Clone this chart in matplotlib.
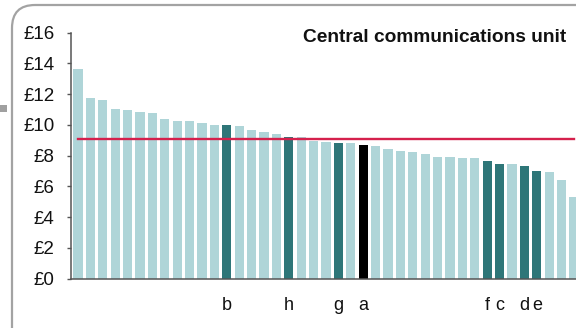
import matplotlib
matplotlib.use("Agg")
import matplotlib.pyplot as plt
from matplotlib.patches import FancyBboxPatch, Rectangle

# ---- data ----
values = [13.64, 11.75, 11.64, 11.04, 10.99, 10.86, 10.80, 10.41, 10.26, 10.24,
          10.13, 10.00, 9.97, 9.93, 9.67, 9.54, 9.43, 9.22, 9.20, 8.93,
          8.89, 8.85, 8.83, 8.72, 8.61, 8.43, 8.33, 8.22, 8.13, 7.93,
          7.91, 7.87, 7.83, 7.65, 7.48, 7.46, 7.33, 7.00, 6.94, 6.42,
          5.33]
highlight_idx = [12, 17, 21, 23, 33, 34, 36, 37]
highlight_lbl = ["b", "h", "g", "a", "f", "c", "d", "e"]
selected = "a"
benchmark = 9.07
yticks = [0, 2, 4, 6, 8, 10, 12, 14, 16]
ytick_labels = ["£0", "£2", "£4", "£6", "£8", "£10", "£12", "£14", "£16"]
title = "Central communications unit"

LIGHT = "#AFD5D8"
DARK = "#2E7678"
BLACK = "#000000"
RED = "#D5204C"

plt.rcParams["font.family"] = ["Liberation Sans", "DejaVu Sans"]

W, H = 576, 328
fig = plt.figure(figsize=(W / 100, H / 100), dpi=100)

# rounded frame (extends beyond right/bottom edges)
frame = FancyBboxPatch((12 / W, -40 / H), 620 / W, (328 - 5 + 40) / H,
                       boxstyle="round,pad=0,rounding_size=0.04",
                       transform=fig.transFigure, facecolor="white",
                       edgecolor="#A3A3A3", linewidth=1.6, mutation_aspect=W / H,
                       zorder=-5)
fig.patches.append(frame)
fig.patches.append(Rectangle((0, (328 - 112) / H), 7 / W, 7 / H,
                             transform=fig.transFigure, facecolor="#A0A0A0",
                             edgecolor="none", zorder=-5))

ax_left, ax_right = 71, 590
ax_bottom, ax_top = 278.7, 32.7
ax = fig.add_axes([ax_left / W, (H - ax_bottom) / H,
                   (ax_right - ax_left) / W, (ax_bottom - ax_top) / H])
ax.set_zorder(2)
ax.patch.set_alpha(0)

pitch = 12.4
x0 = (ax_left - 77.95) / pitch
x1 = (ax_right - 77.95) / pitch

colors = []
lbl_map = dict(zip(highlight_idx, highlight_lbl))
for i in range(len(values)):
    if i in lbl_map:
        colors.append(BLACK if lbl_map[i] == selected else DARK)
    else:
        colors.append(LIGHT)

xs = list(range(len(values)))
ax.bar(xs, values, width=0.75, color=colors, edgecolor="none", zorder=2)
ax.plot([0, len(values) - 1], [benchmark, benchmark], color=RED, lw=1.7, zorder=3)

ax.set_xlim(x0, x1)
ax.set_ylim(0, 16)
ax.set_yticks(yticks)
ax.set_yticklabels(ytick_labels)
ax.set_xticks(highlight_idx)
ax.set_xticklabels(highlight_lbl)

for s in ["top", "right"]:
    ax.spines[s].set_visible(False)
for s in ["left", "bottom"]:
    ax.spines[s].set_color("#555555")
    ax.spines[s].set_linewidth(1.1)
ax.spines["bottom"].set_zorder(4)

ax.tick_params(axis="y", length=3.1, width=1.0, color="#555555", pad=8.9,
               labelsize=13.5, labelcolor="#111111")
ax.tick_params(axis="x", length=0, pad=13, labelsize=13, labelcolor="#111111")

t = fig.text(566 / W, 1 - 37 / H, title, ha="right", va="center",
             fontsize=13.8, fontweight="bold", color="#111111")
t.set_zorder(3)

fig.savefig("out.png", dpi=100)
